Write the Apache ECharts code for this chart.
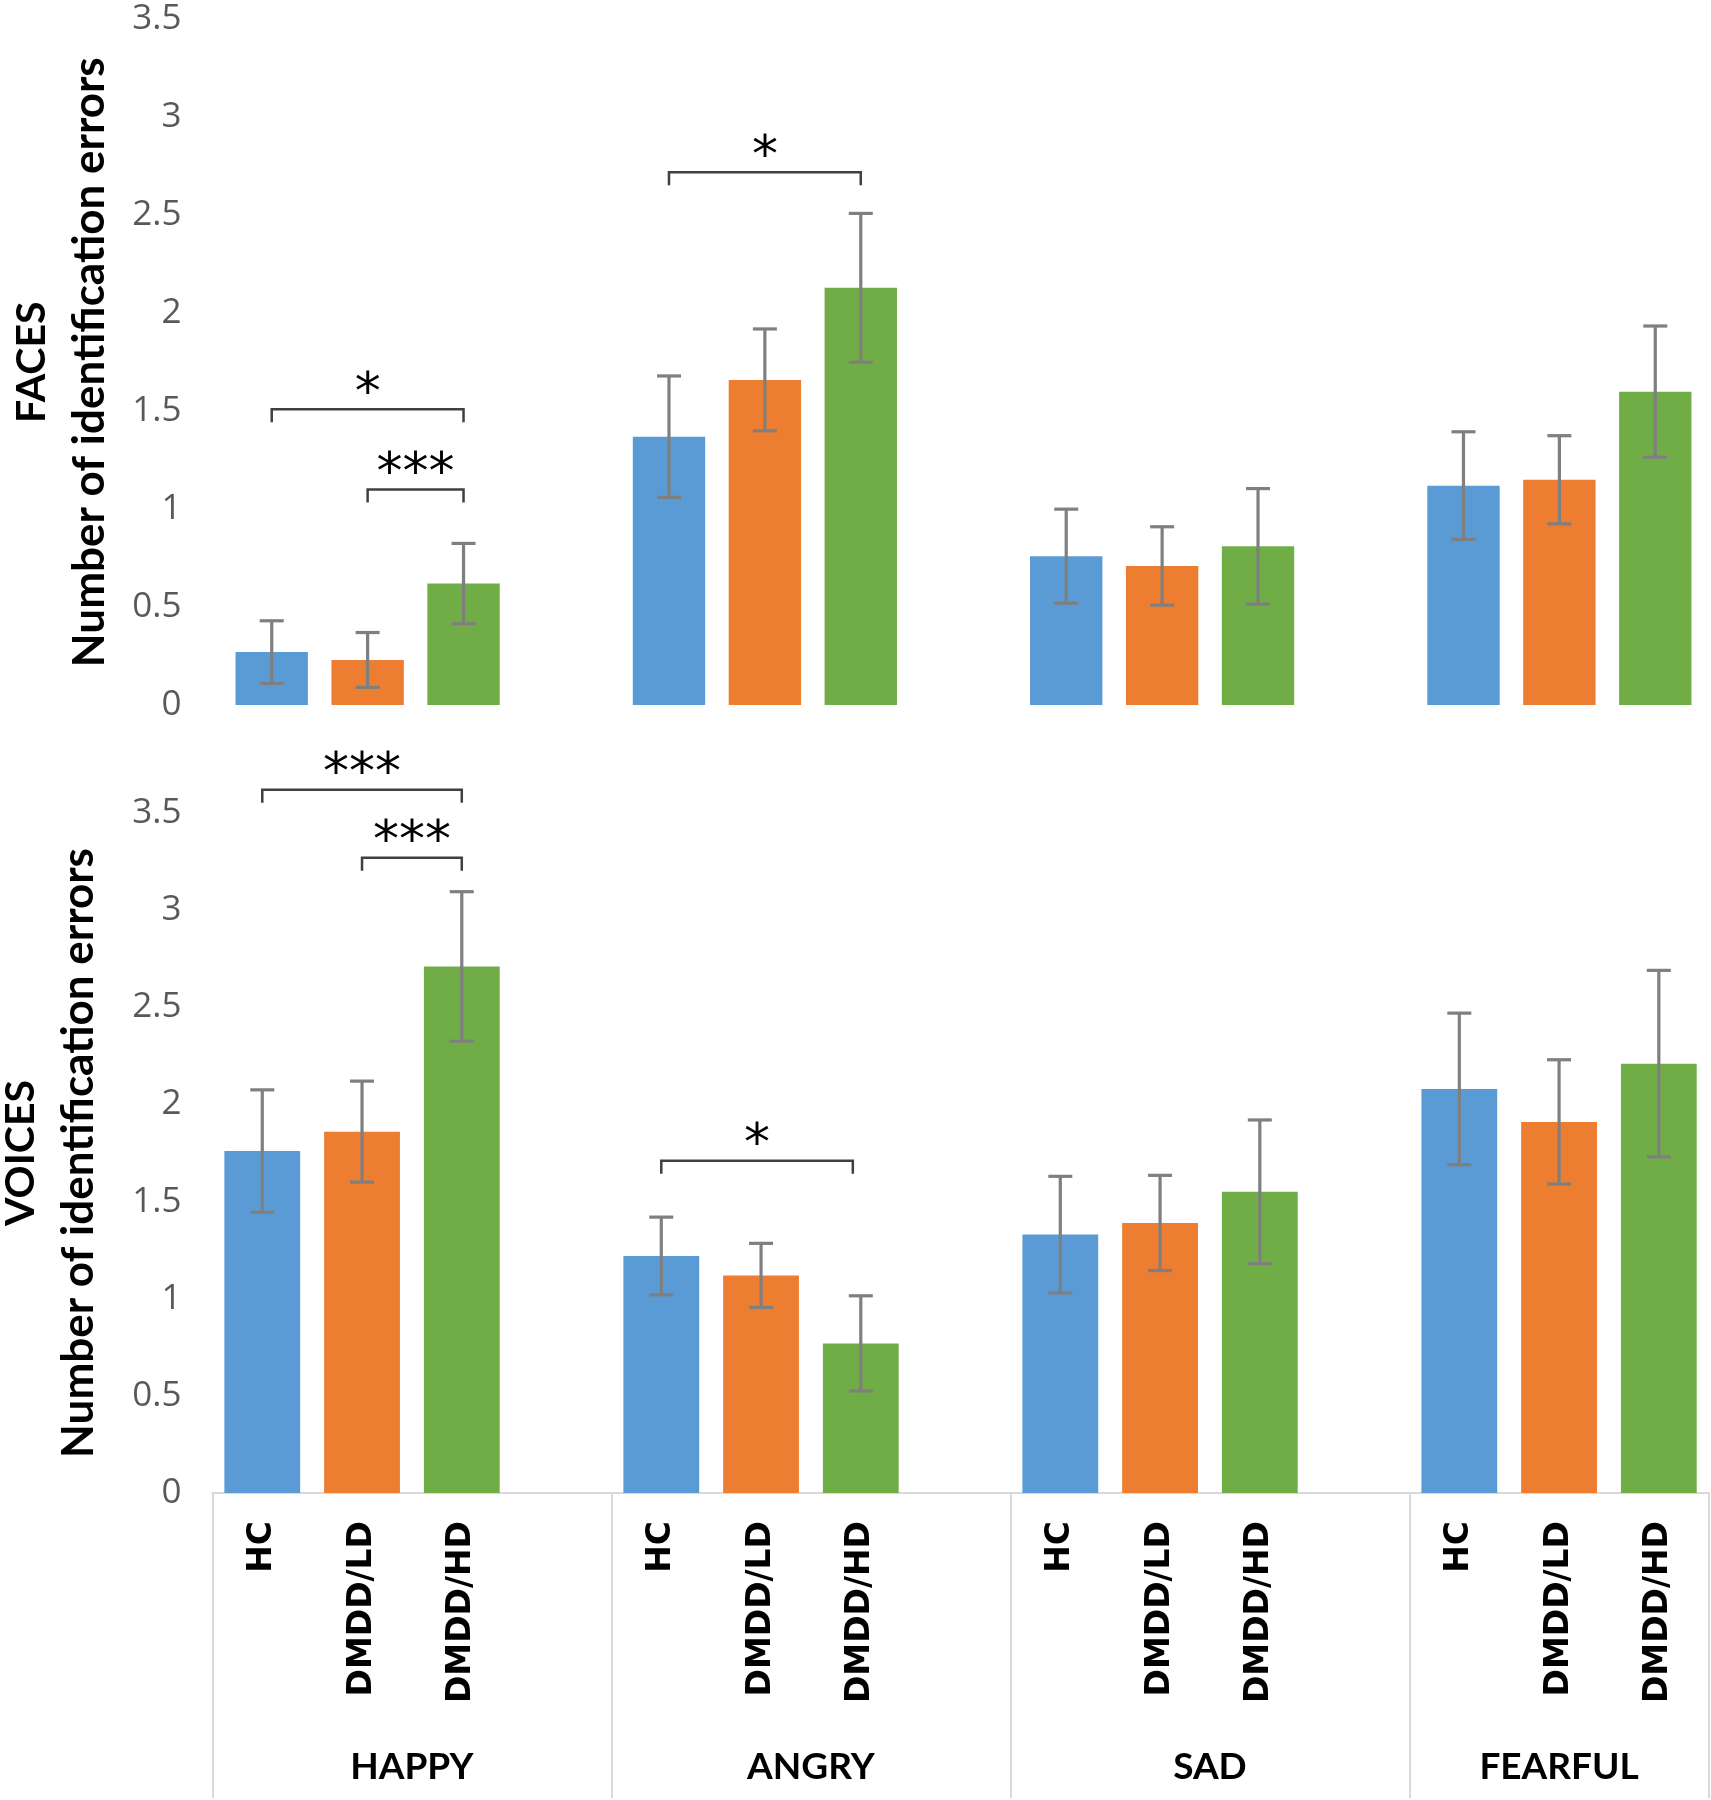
<!DOCTYPE html>
<html>
<head>
<meta charset="utf-8">
<script src="https://cdn.jsdelivr.net/npm/echarts@6/dist/echarts.min.js"></script>
<style>
html,body{margin:0;padding:0;background:#fff;}
#chart{width:1711px;height:1800px;}
</style>
</head>
<body>
<div id="chart"></div>
<script>
// ---- data ----
const emotions = ['HAPPY', 'ANGRY', 'SAD', 'FEARFUL'];
const groups = ['HC', 'DMDD/LD', 'DMDD/HD'];
const groupColors = ['#5B9BD5', '#ED7D31', '#70AD47'];

const facesHC = [0.27, 1.37, 0.76, 1.12];
const facesLD = [0.23, 1.66, 0.71, 1.15];
const facesHD = [0.62, 2.13, 0.81, 1.60];
const facesHCse = [0.16, 0.31, 0.24, 0.275];
const facesLDse = [0.14, 0.26, 0.20, 0.225];
const facesHDse = [0.205, 0.38, 0.295, 0.335];

const voicesHC = [1.76, 1.22, 1.33, 2.08];
const voicesLD = [1.86, 1.12, 1.39, 1.91];
const voicesHD = [2.71, 0.77, 1.55, 2.21];
const voicesHCse = [0.315, 0.20, 0.30, 0.39];
const voicesLDse = [0.26, 0.165, 0.245, 0.32];
const voicesHDse = [0.385, 0.245, 0.37, 0.48];

// significance brackets: [emotion index, from group, to group, height]
const facesSig = [[0, 0, 2, 1.51], [0, 1, 2, 1.10], [1, 0, 2, 2.72]];
const facesSigLabels = ['*', '***', '*'];
const voicesSig = [[0, 0, 2, 3.62], [0, 1, 2, 3.27], [1, 0, 1.92, 1.71]];
const voicesSigLabels = ['***', '***', '*'];

// ---- derived structures ----
const facesMeans = [facesHC, facesLD, facesHD];
const facesSE = [facesHCse, facesLDse, facesHDse];
const voicesMeans = [voicesHC, voicesLD, voicesHD];
const voicesSE = [voicesHCse, voicesLDse, voicesHDse];

const SLOTS = 4; // 3 groups + 1 blank slot between emotions
const nFlat = emotions.length * SLOTS - 1;
const flatLabels = [];
for (let i = 0; i < nFlat; i++) {
  const g = i % SLOTS;
  flatLabels.push(g < groups.length ? groups[g] : '');
}
function flatSeriesData(arr, g) {
  const out = new Array(nFlat).fill('-');
  arr.forEach((v, e) => { out[e * SLOTS + g] = v; });
  return out;
}
const groupCenters = emotions.map((_, e) => (e * SLOTS + Math.min(e * SLOTS + SLOTS, nFlat)) / 2);
const groupBounds = [];
emotions.forEach((_, e) => groupBounds.push(e * SLOTS));
groupBounds.push(nFlat);

const BAR_GAP = 0.325, CAT_GAP = 0.335;
function clusterX(api, e, g) {
  const band = api.size([1, 0])[0];
  const bw = band * (1 - CAT_GAP) / (groups.length + (groups.length - 1) * BAR_GAP);
  return api.coord([e, 0])[0] + (g - (groups.length - 1) / 2) * bw * (1 + BAR_GAP);
}
function flatX(api, e, g) {
  const band = api.size([1, 0])[0];
  return api.coord([e * SLOTS, 0])[0] + g * band;
}

function errData(means, ses) {
  const d = [];
  means.forEach((arr, g) => arr.forEach((m, e) => d.push([e, g, m, ses[g][e]])));
  return d;
}

function errRender(posFn, catFn) {
  return function (params, api) {
    const e = api.value(0), g = api.value(1), m = api.value(2), s = api.value(3);
    const x = posFn(api, e, g);
    const yt = api.coord([catFn(e, g), m + s])[1];
    const yb = api.coord([catFn(e, g), m - s])[1];
    const st = { stroke: '#7F7F7F', lineWidth: 3.2 };
    const cap = 12;
    return {
      type: 'group',
      children: [
        { type: 'line', shape: { x1: x, y1: yt, x2: x, y2: yb }, style: st },
        { type: 'line', shape: { x1: x - cap, y1: yt, x2: x + cap, y2: yt }, style: st },
        { type: 'line', shape: { x1: x - cap, y1: yb, x2: x + cap, y2: yb }, style: st }
      ]
    };
  };
}

function sigRender(posFn, catFn, labels) {
  return function (params, api) {
    const e = api.value(0), g1 = api.value(1), g2 = api.value(2), h = api.value(3);
    const x1 = posFn(api, e, g1), x2 = posFn(api, e, g2);
    const y = api.coord([catFn(e, 0), h])[1];
    const drop = 13;
    return {
      type: 'group',
      children: [
        { type: 'polyline', shape: { points: [[x1, y + drop], [x1, y], [x2, y], [x2, y + drop]] },
          style: { stroke: '#404040', lineWidth: 2.5, fill: null } },
        { type: 'text', style: { text: labels[params.dataIndex], x: (x1 + x2) / 2, y: y - 14,
          align: 'center', verticalAlign: 'middle', fontSize: 52, fontFamily: 'DejaVu Sans', fill: '#000' } }
      ]
    };
  };
}

const yLabelStyle = { color: '#595959', fontSize: 35, fontFamily: 'Open Sans' };
const nameStyle = {
  fontFamily: 'Lato', fontWeight: 'bold', color: '#000', lineHeight: 58,
  rich: {
    t: { fontFamily: 'Lato', fontWeight: 'bold', fontSize: 41, lineHeight: 58, color: '#000' },
    n: { fontFamily: 'Lato', fontWeight: 'bold', fontSize: 44, lineHeight: 58, color: '#000' }
  }
};

const chart = echarts.init(document.getElementById('chart'), null, { renderer: 'canvas' });
chart.setOption({
  animation: false,
  backgroundColor: '#fff',
  grid: [
    { left: 169, top: 19.5, width: 1589, height: 685.5, outerBoundsMode: 'none', containLabel: false },
    { left: 212.4, top: 813, width: 1496.3, height: 680, outerBoundsMode: 'none', containLabel: false }
  ],
  xAxis: [
    { gridIndex: 0, type: 'category', data: emotions, show: false },
    { gridIndex: 1, type: 'category', data: flatLabels, position: 'bottom',
      axisLine: { show: true, lineStyle: { color: '#D9D9D9', width: 2 } },
      axisTick: { show: false },
      axisLabel: { interval: 0, rotate: 90, margin: 28, fontFamily: 'DejaVu Sans', fontWeight: 'bold', fontSize: 33, color: '#000' } },
    { gridIndex: 1, type: 'value', min: 0, max: nFlat, position: 'bottom', offset: 0,
      axisLine: { show: false },
      splitLine: { show: false },
      axisTick: { show: true, customValues: groupBounds, length: 305, lineStyle: { color: '#D9D9D9', width: 2 } },
      axisLabel: { customValues: groupCenters, margin: 256, fontFamily: 'Lato', fontWeight: 'bold', fontSize: 37, color: '#000',
        formatter: v => { const i = groupCenters.indexOf(v); return i >= 0 ? emotions[i] : ''; } } }
  ],
  yAxis: [
    { gridIndex: 0, type: 'value', min: 0, max: 3.5, interval: 0.5,
      axisLine: { show: false }, axisTick: { show: false }, splitLine: { show: false },
      axisLabel: Object.assign({ margin: -12.4 }, yLabelStyle),
      name: '{t|FACES}\n{n|Number of identification errors}', nameLocation: 'middle', nameRotate: 90, nameGap: 50,
      nameTextStyle: nameStyle },
    { gridIndex: 1, type: 'value', min: 0, max: 3.5, interval: 0.5,
      axisLine: { show: false }, axisTick: { show: false }, splitLine: { show: false },
      axisLabel: Object.assign({ margin: 31 }, yLabelStyle),
      name: '{t|VOICES}\n{n|Number of identification errors}', nameLocation: 'middle', nameRotate: 90, nameGap: 105,
      nameTextStyle: nameStyle }
  ],
  series: [
    ...groups.map((g, gi) => ({
      type: 'bar', name: g, xAxisIndex: 0, yAxisIndex: 0, data: facesMeans[gi],
      itemStyle: { color: groupColors[gi] }, barGap: (BAR_GAP * 100) + '%', barCategoryGap: (CAT_GAP * 100) + '%'
    })),
    ...groups.map((g, gi) => ({
      type: 'bar', name: g + ' voices', xAxisIndex: 1, yAxisIndex: 1, data: flatSeriesData(voicesMeans[gi], gi),
      itemStyle: { color: groupColors[gi] }, barGap: '-100%', barCategoryGap: '24%'
    })),
    { type: 'custom', xAxisIndex: 0, yAxisIndex: 0, z: 5, clip: false,
      data: errData(facesMeans, facesSE), renderItem: errRender(clusterX, (e, g) => e) },
    { type: 'custom', xAxisIndex: 1, yAxisIndex: 1, z: 5, clip: false,
      data: errData(voicesMeans, voicesSE), renderItem: errRender(flatX, (e, g) => e * SLOTS + g) },
    { type: 'custom', xAxisIndex: 0, yAxisIndex: 0, z: 6, clip: false,
      data: facesSig, renderItem: sigRender(clusterX, (e, g) => e, facesSigLabels) },
    { type: 'custom', xAxisIndex: 1, yAxisIndex: 1, z: 6, clip: false,
      data: voicesSig, renderItem: sigRender(flatX, (e, g) => e * SLOTS + g, voicesSigLabels) }
  ]
});
</script>
</body>
</html>
